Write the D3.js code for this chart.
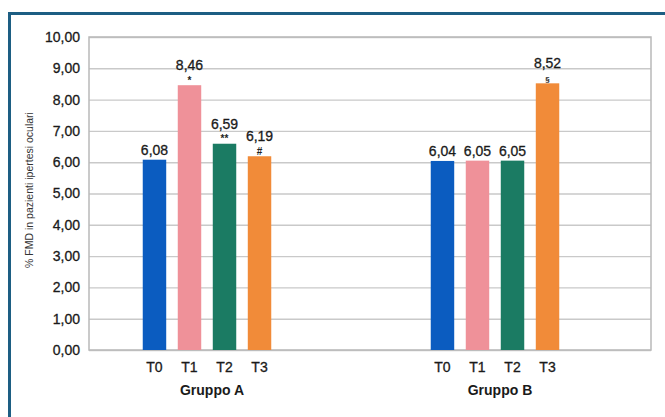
<!DOCTYPE html>
<html>
<head>
<meta charset="utf-8">
<script src="https://cdn.jsdelivr.net/npm/d3@7/dist/d3.min.js"></script>
<style>
  html, body { margin: 0; padding: 0; background: #fff; }
  svg { display: block; font-family: "Liberation Sans", Arial, sans-serif; }
</style>
</head>
<body>
<svg id="chart" width="665" height="417"></svg>
<script>
// Groups, time points and measured % FMD values
const groups = ["Gruppo A", "Gruppo B"];
const times = ["T0", "T1", "T2", "T3"];
const gruppoA = [6.08, 8.46, 6.59, 6.19];
const gruppoB = [6.04, 6.05, 6.05, 8.52];
const marksA = ["", "*", "**", "#"];
const marksB = ["", "", "", "§"];
const yTicks = [0, 1, 2, 3, 4, 5, 6, 7, 8, 9, 10];
const colors = ["#0b5cc0", "#ef9199", "#1b7b63", "#f18b39"];
const yTitle = "% FMD in pazienti ipertesi oculari";

const series = { "Gruppo A": gruppoA, "Gruppo B": gruppoB };
const marks = { "Gruppo A": marksA, "Gruppo B": marksB };

const itLocale = d3.formatLocale({ decimal: ",", thousands: ".", grouping: [3], currency: ["", " €"] });
const fmt = itLocale.format(".2f");

const svg = d3.select("#chart");
const ink = "#1a1a1a";

// outer frame
svg.append("rect")
  .attr("x", 9.5).attr("y", 13.5)
  .attr("width", 700).attr("height", 450)
  .attr("fill", "none")
  .attr("stroke", "#1d5e83")
  .attr("stroke-width", 3);

const plot = { left: 89, right: 651, top: 37, bottom: 350 };

const y = d3.scaleLinear().domain([0, 10]).range([plot.bottom, plot.top]);
const x0 = d3.scaleBand().domain(groups).range([63, 639]).padding(0);
const x1 = d3.scaleBand().domain(times).range([0, 128.5]).paddingInner(0.33).paddingOuter(0);
const clusterW = x1.range()[1];
const groupStart = g => x0(g) + x0.bandwidth() / 2 - clusterW / 2;

// gridlines
svg.append("g")
  .attr("transform", `translate(${plot.left},0)`)
  .call(d3.axisLeft(y).tickValues(yTicks).tickSize(-(plot.right - plot.left)).tickFormat(""))
  .call(g => g.select(".domain").remove())
  .call(g => g.selectAll("line").attr("stroke", "#c9c9c9").attr("stroke-width", 1.4));

// plot border
svg.append("rect")
  .attr("x", plot.left).attr("y", plot.top)
  .attr("width", plot.right - plot.left).attr("height", plot.bottom - plot.top)
  .attr("fill", "none")
  .attr("stroke", "#b9b9b9")
  .attr("stroke-width", 1.5);

// slightly heavier regular text
const heavy = sel => sel.attr("stroke", ink).attr("stroke-width", 0.3);

// y axis labels
svg.append("g")
  .attr("transform", `translate(${plot.left},0)`)
  .call(d3.axisLeft(y).tickValues(yTicks).tickSize(0).tickPadding(9).tickFormat(fmt))
  .call(g => g.select(".domain").remove())
  .call(g => g.selectAll("text")
    .attr("font-size", 14)
    .attr("font-family", "Liberation Sans, Arial, sans-serif")
    .attr("fill", ink)
    .call(heavy));

// y axis title
svg.append("text")
  .attr("transform", `translate(33,190) rotate(-90)`)
  .attr("text-anchor", "middle")
  .attr("font-size", 10.5)
  .attr("fill", "#333")
  .text(yTitle);

// bars, value labels, significance marks
groups.forEach(gname => {
  const gx = groupStart(gname);
  const vals = series[gname];
  const mk = marks[gname];
  const g = svg.append("g").attr("transform", `translate(${gx},0)`);

  g.selectAll("rect.bar")
    .data(times.map((t, i) => ({ t, v: vals[i], i })))
    .join("rect")
    .attr("class", "bar")
    .attr("x", d => x1(d.t))
    .attr("y", d => y(d.v))
    .attr("width", x1.bandwidth())
    .attr("height", d => y(0) - y(d.v))
    .attr("fill", d => colors[d.i]);

  times.forEach((t, i) => {
    const cx = x1(t) + x1.bandwidth() / 2;
    const top = y(vals[i]);
    const hasMark = mk[i] !== "";
    if (hasMark) {
      g.append("text")
        .attr("x", cx)
        .attr("y", top - 1.5)
        .attr("text-anchor", "middle")
        .attr("font-size", mk[i] === "§" ? 8 : 10)
        .attr("font-weight", "bold")
        .attr("fill", "#222")
        .text(mk[i]);
    }
    g.append("text")
      .attr("x", cx)
      .attr("y", top - (hasMark ? 15 : 5))
      .attr("text-anchor", "middle")
      .attr("font-size", 14)
      .attr("fill", ink)
      .call(heavy)
      .text(fmt(vals[i]));
  });

  // time-point labels
  g.append("g")
    .attr("transform", `translate(0,${plot.bottom})`)
    .call(d3.axisBottom(x1).tickSize(0).tickPadding(12))
    .call(a => a.select(".domain").remove())
    .call(a => a.selectAll("text")
      .attr("font-size", 14)
      .attr("font-family", "Liberation Sans, Arial, sans-serif")
      .attr("fill", ink)
      .call(heavy));

  // group label
  g.append("text")
    .attr("x", clusterW / 2 + 5)
    .attr("y", plot.bottom + 45)
    .attr("text-anchor", "middle")
    .attr("font-size", 14)
    .attr("font-weight", "bold")
    .attr("fill", ink)
    .text(gname);
});
</script>
</body>
</html>
